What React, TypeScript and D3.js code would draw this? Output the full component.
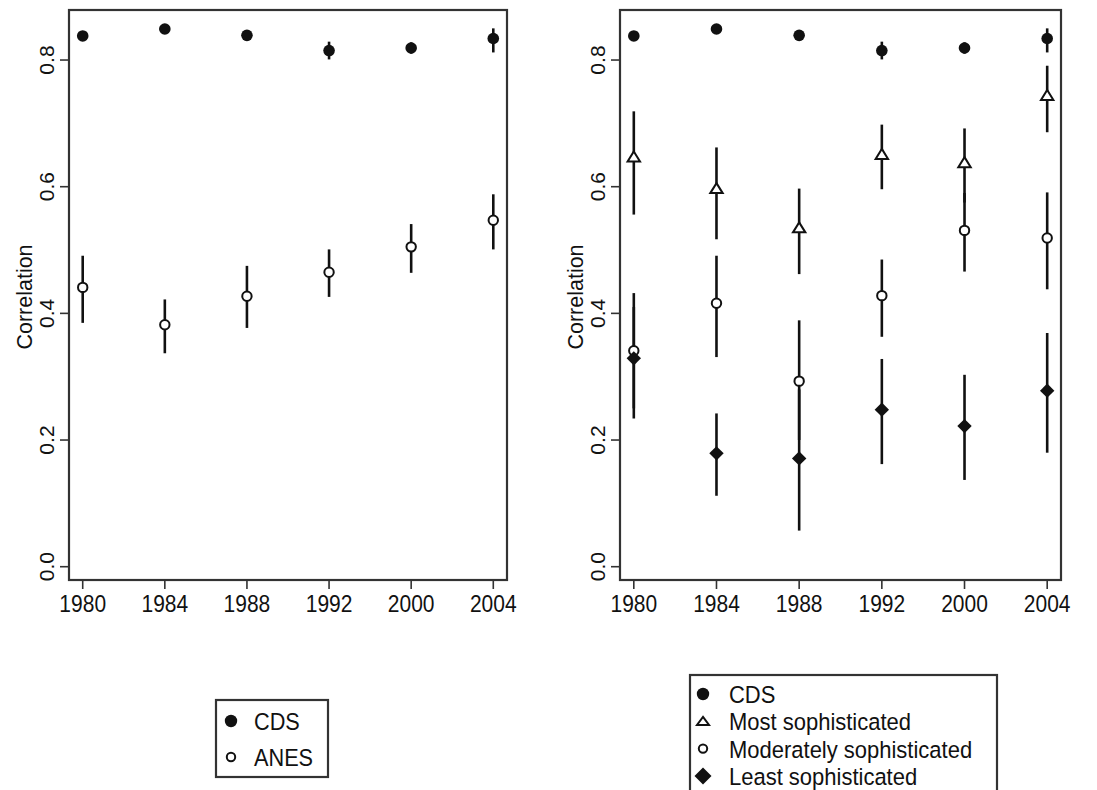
import React from "react";
import * as d3 from "d3";

const years = ["1980", "1984", "1988", "1992", "2000", "2004"];
const yTicks = [0.0, 0.2, 0.4, 0.6, 0.8];

// CDS (both panels)
const cdsVal = [0.838, 0.849, 0.839, 0.815, 0.819, 0.834];
const cdsLo = [0.831, 0.842, 0.832, 0.801, 0.810, 0.812];
const cdsHi = [0.845, 0.856, 0.846, 0.829, 0.828, 0.850];

// ANES (left panel)
const anesVal = [0.441, 0.382, 0.427, 0.465, 0.505, 0.547];
const anesLo = [0.385, 0.337, 0.377, 0.426, 0.464, 0.501];
const anesHi = [0.491, 0.422, 0.475, 0.501, 0.541, 0.588];

// Most sophisticated
const mostVal = [0.647, 0.597, 0.535, 0.651, 0.638, 0.744];
const mostLo = [0.556, 0.517, 0.462, 0.596, 0.575, 0.686];
const mostHi = [0.719, 0.662, 0.597, 0.698, 0.692, 0.791];

// Moderately sophisticated
const modVal = [0.341, 0.416, 0.293, 0.428, 0.531, 0.519];
const modLo = [0.25, 0.331, 0.2, 0.363, 0.466, 0.438];
const modHi = [0.432, 0.491, 0.389, 0.485, 0.59, 0.591];

// Least sophisticated
const leastVal = [0.329, 0.179, 0.171, 0.248, 0.222, 0.278];
const leastLo = [0.234, 0.112, 0.057, 0.162, 0.137, 0.18];
const leastHi = [0.41, 0.242, 0.28, 0.328, 0.303, 0.369];

const FONT = "'Liberation Sans', Arial, Helvetica, sans-serif";
const INK = "#111";

type Series = { val: number[]; lo: number[]; hi: number[]; shape: string };

function Marker({ shape, x, y, legend = false }: { shape: string; x: number; y: number; legend?: boolean }) {
  if (shape === "filled") return <circle cx={x} cy={y} r={legend ? 6.2 : 5.8} fill={INK} />;
  if (shape === "open")
    return <circle cx={x} cy={y} r={legend ? 4.2 : 4.7} fill="#fff" stroke={INK} strokeWidth={2} />;
  if (shape === "tri") {
    const w = legend ? 6 : 6.2, h = legend ? 8 : 10;
    return (
      <path
        d={`M${x},${y - h * 0.55} L${x + w},${y + h * 0.45} L${x - w},${y + h * 0.45} Z`}
        fill="#fff"
        stroke={INK}
        strokeWidth={2}
        strokeLinejoin="miter"
      />
    );
  }
  const d = legend ? 8.5 : 7.2;
  return <path d={`M${x},${y - d} L${x + d},${y} L${x},${y + d} L${x - d},${y} Z`} fill={INK} />;
}

function Panel({ left, right, series }: { left: number; right: number; series: Series[] }) {
  const top = 10, bottom = 580;
  const x = d3.scaleLinear().domain([-0.167, years.length - 1 + 0.167]).range([left, right]);
  const y = d3.scaleLinear().domain([-0.021, 0.879]).range([bottom, top]);
  return (
    <g>
      {series.map((se, k) => (
        <g key={"e" + k}>
          {se.val.map((v, i) => (
            <line
              key={i}
              x1={x(i)}
              x2={x(i)}
              y1={y(se.lo[i])}
              y2={y(se.hi[i])}
              stroke={INK}
              strokeWidth={2.6}
            />
          ))}
        </g>
      ))}
      {series.map((se, k) => (
        <g key={"m" + k}>
          {se.val.map((v, i) => (
            <Marker key={i} shape={se.shape} x={x(i)} y={y(v)} />
          ))}
        </g>
      ))}
      <rect x={left} y={top} width={right - left} height={bottom - top} fill="none" stroke="#333" strokeWidth={2.2} />
      {yTicks.map((t) => (
        <g key={t}>
          <line x1={left - 9} x2={left} y1={y(t)} y2={y(t)} stroke="#333" strokeWidth={1.6} />
          <text
            transform={`translate(${left - 15.5},${y(t)}) rotate(-90)`}
            textAnchor="middle"
            fontFamily={FONT}
            fontSize={21}
            fill={INK}
          >
            {t.toFixed(1)}
          </text>
        </g>
      ))}
      {years.map((yr, i) => (
        <g key={yr}>
          <line x1={x(i)} x2={x(i)} y1={bottom} y2={bottom + 9} stroke="#333" strokeWidth={1.6} />
          <text
            transform={`translate(${x(i)},611.5) scale(1,1.1)`}
            textAnchor="middle"
            fontFamily={FONT}
            fontSize={21}
            fill={INK}
          >
            {yr}
          </text>
        </g>
      ))}
      <text
        transform={`translate(${left - 37},${(top + bottom) / 2 + 2}) rotate(-90)`}
        textAnchor="middle"
        fontFamily={FONT}
        fontSize={21.5}
        fill={INK}
      >
        Correlation
      </text>
    </g>
  );
}

export default function App() {
  const leftSeries: Series[] = [
    { val: cdsVal, lo: cdsLo, hi: cdsHi, shape: "filled" },
    { val: anesVal, lo: anesLo, hi: anesHi, shape: "open" },
  ];
  const rightSeries: Series[] = [
    { val: cdsVal, lo: cdsLo, hi: cdsHi, shape: "filled" },
    { val: mostVal, lo: mostLo, hi: mostHi, shape: "tri" },
    { val: modVal, lo: modLo, hi: modHi, shape: "open" },
    { val: leastVal, lo: leastLo, hi: leastHi, shape: "diamond" },
  ];
  const legL = [
    { label: "CDS", shape: "filled" },
    { label: "ANES", shape: "open" },
  ];
  const legR = [
    { label: "CDS", shape: "filled" },
    { label: "Most sophisticated", shape: "tri" },
    { label: "Moderately sophisticated", shape: "open" },
    { label: "Least sophisticated", shape: "diamond" },
  ];
  return (
    <svg
      width={1097}
      height={790}
      style={{ position: "absolute", left: 0, top: 0, background: "#fff" }}
    >
      <rect x={0} y={0} width={1097} height={790} fill="#fff" />
      <Panel left={69} right={507} series={leftSeries} />
      <Panel left={620} right={1061} series={rightSeries} />
      <rect x={216} y={700} width={112} height={77} fill="none" stroke="#333" strokeWidth={2.2} />
      {legL.map((l, i) => (
        <g key={l.label}>
          <Marker shape={l.shape} x={231} y={721 + i * 36} legend />
          <text
            transform={`translate(254,${721 + i * 36 + 9}) scale(1,1.08)`}
            fontFamily={FONT}
            fontSize={21.7}
            fill={INK}
          >
            {l.label}
          </text>
        </g>
      ))}
      <rect x={690} y={675} width={307} height={130} fill="none" stroke="#333" strokeWidth={2.2} />
      {legR.map((l, i) => (
        <g key={l.label}>
          <Marker shape={l.shape} x={703} y={694 + i * 27.3} legend />
          <text
            transform={`translate(729,${694 + i * 27.3 + 9}) scale(1,1.08)`}
            fontFamily={FONT}
            fontSize={22}
            fill={INK}
          >
            {l.label}
          </text>
        </g>
      ))}
    </svg>
  );
}
